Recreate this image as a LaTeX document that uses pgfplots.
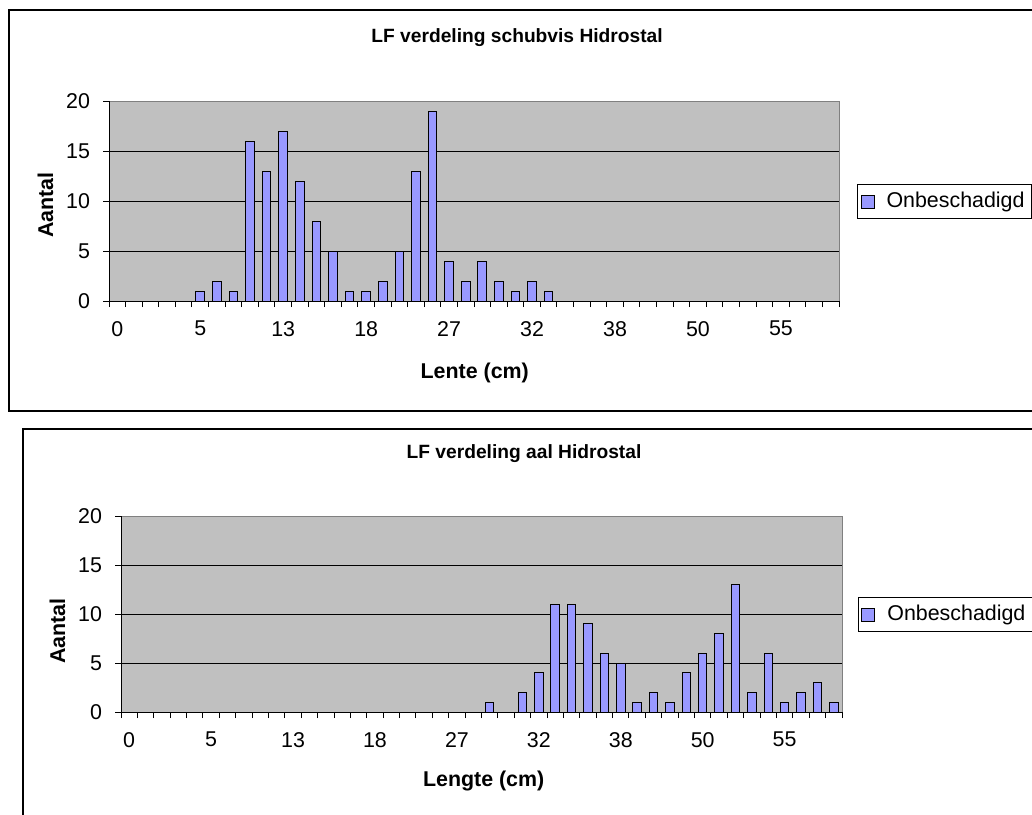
\documentclass[border=0pt]{standalone}
\usepackage{fontspec}
\setmainfont{Liberation Sans}
\usepackage{pgfplots}
\usepackage{pgfplotstable}
\pgfplotsset{compat=1.18}
\definecolor{barblue}{HTML}{9999FF}
\definecolor{plotgray}{HTML}{C0C0C0}
\definecolor{bordergray}{HTML}{808080}

\pgfplotstableread{
x y
5 1
6 2
7 1
8 16
9 13
10 17
11 12
12 8
13 5
14 1
15 1
16 2
17 5
18 13
19 19
20 4
21 2
22 4
23 2
24 1
25 2
26 1
}\topdata

\pgfplotstableread{
x y
22 1
24 2
25 4
26 11
27 11
28 9
29 6
30 5
31 1
32 2
33 1
34 4
35 6
36 8
37 13
38 2
39 6
40 1
41 2
42 3
43 1
}\botdata

\pgfplotsset{lfstyle/.style={
  scale only axis, anchor=south west,
  ybar, bar width=0.52,
  xmin=-0.5, xmax=43.5, ymin=0, ymax=20,
  axis x line*=bottom, axis y line*=left,
  axis line style={black, line width=0.5pt},
  axis background/.style={fill=plotgray, draw=bordergray, line width=0.5pt},
  ytick={0,5,10,15}, extra y ticks={20},
  extra y tick style={ymajorgrids=false},
  ymajorgrids, major grid style={black, line width=0.5pt},
  xtick={-0.5,0.5,...,43.5}, xticklabels={},
  extra x ticks={0,5,10,15,20,25,30,35,40},
  extra x tick labels={0,5,13,18,27,32,38,50,55},
  extra x tick style={major tick length=0pt, xmajorgrids=false},
  tick align=outside, major tick length=3pt,
  tick style={black, line width=0.5pt},
  /pgf/number format/assume math mode=true,
  ticklabel style={font=\fontsize{10.7}{12.5}\selectfont},
  xticklabel style={yshift=-6.5pt},
  yticklabel style={xshift=-3pt},
  title style={font=\bfseries\fontsize{9.6}{11}\selectfont, anchor=center},
  label style={font=\bfseries\fontsize{10.7}{12.5}\selectfont},
  legend style={draw=black, line width=0.5pt, anchor=west,
    font=\fontsize{10.7}{12.5}\selectfont, inner xsep=1.5pt, inner ysep=2pt,
    legend cell align=left,
    /tikz/every odd column/.append style={column sep=4pt}},
  legend image code/.code={\draw[#1] (0pt,-3.25pt) rectangle (6.5pt,3.25pt);},
}}

\begin{document}
\begin{tikzpicture}
\clip (0pt,0pt) rectangle (516pt,-407pt);
\fill[white] (0pt,0pt) rectangle (516pt,-407pt);
\draw[black, line width=0.75pt] (4.5pt,-5pt) rectangle (525pt,-205.5pt);
\draw[black, line width=0.75pt] (11.5pt,-214.5pt) rectangle (525pt,-430pt);

\begin{axis}[lfstyle,
  at={(54.5pt,-150.5pt)}, width=365pt, height=100pt,
  title={LF verdeling schubvis Hidrostal},
  title style={at={(0.559,1.255)}},
  xlabel={Lente (cm)},
  xlabel style={at={(0.501,-0.36)}, anchor=center},
  ylabel={Aantal},
  ylabel style={at={(-0.087,0.48)}, anchor=center},
  legend style={at={(1.0247,0.4975)}},
]
\addplot[fill=barblue, draw=black, line width=0.5pt] table[x=x,y=y]{\topdata};
\addlegendentry{Onbeschadigd}
\end{axis}

\begin{axis}[lfstyle,
  at={(60.5pt,-356pt)}, width=360.5pt, height=98pt,
  title={LF verdeling aal Hidrostal},
  title style={at={(0.559,1.255)}},
  xlabel={Lengte (cm)},
  xlabel style={at={(0.503,-0.352)}, anchor=center},
  ylabel={Aantal},
  ylabel style={at={(-0.088,0.413)}, anchor=center},
  legend style={at={(1.022,0.497)}},
]
\addplot[fill=barblue, draw=black, line width=0.5pt] table[x=x,y=y]{\botdata};
\addlegendentry{Onbeschadigd}
\end{axis}
\end{tikzpicture}
\end{document}
